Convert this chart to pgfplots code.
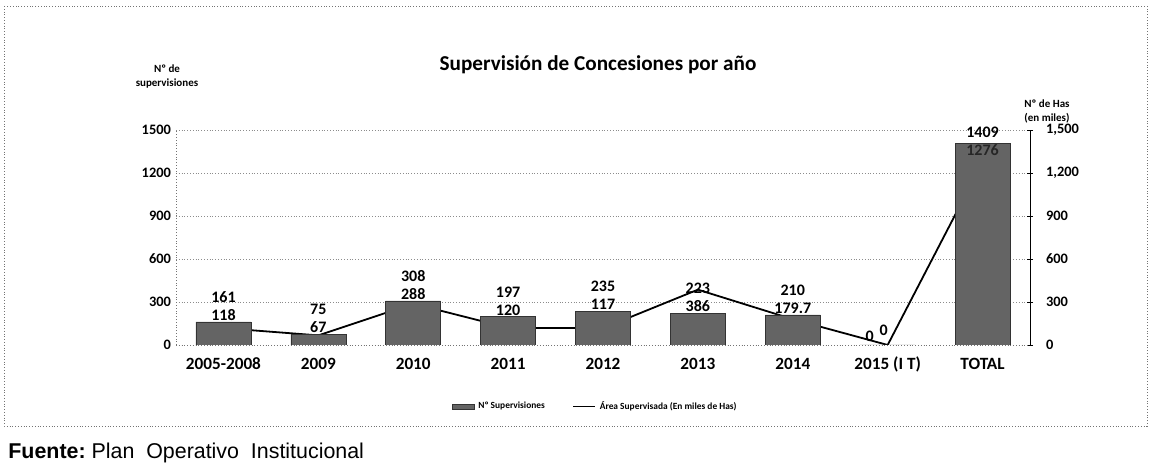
\documentclass[border=0pt]{standalone}
\usepackage{pgfplots}
\pgfplotsset{compat=1.18}
\usepackage{fontspec}
\setmainfont{Carlito}
\newfontfamily\arial{Liberation Sans}
\definecolor{barfill}{RGB}{100,100,100}
\begin{document}
\begin{tikzpicture}
\useasboundingbox (0,0) rectangle (576pt,232pt);
\draw[black!55, densely dotted, line width=0.4pt] (2pt,229pt) rectangle (573.5pt,19pt);
% ---------- line axis (right) ----------
\begin{axis}[
  at={(88pt,59.5pt)}, anchor=south west, scale only axis,
  width=427pt, height=107.5pt,
  xmin=-0.5, xmax=8.5, ymin=0, ymax=1500,
  axis x line=none,
  axis y line*=right,
  ytick={0,300,...,1500},
  ymajorgrids, grid style={densely dotted, black!45, line width=0.4pt},
  axis line style={black, line width=0.4pt},
  tick style={black, line width=0.4pt},
  tick align=center, major tick length=3pt,
  /pgf/number format/assume math mode=true,
  yticklabel style={font=\bfseries\fontsize{7.2}{8}\selectfont, xshift=3pt},
]
\addplot[black, line width=0.9pt] coordinates {(0,118) (1,67) (2,288) (3,120) (4,117) (5,386) (6,179.7) (7,0) (8,1276)};
\end{axis}
% ---------- bar axis (left) ----------
\begin{axis}[
  at={(88pt,59.5pt)}, anchor=south west, scale only axis,
  width=427pt, height=107.5pt,
  xmin=-0.5, xmax=8.5, ymin=0, ymax=1500,
  axis y line*=left, axis x line*=bottom,
  axis line style={densely dotted, black!55, line width=0.4pt, -},
  xtick={0,...,8},
  xticklabels={2005-2008,2009,2010,2011,2012,2013,2014,2015 (I T),TOTAL},
  ytick={0,300,...,1500},
  major tick length=0pt,
  /pgf/number format/assume math mode=true,
  /pgf/number format/1000 sep={},
  yticklabel style={font=\bfseries\fontsize{7.2}{8}\selectfont, xshift=1pt},
  xticklabel style={font=\bfseries\fontsize{8.6}{10}\selectfont, yshift=-2pt, text height=6.5pt, text depth=1.5pt},
  legend style={at={(0.492,-0.288)}, anchor=center, legend columns=2, draw=none, fill=none,
    font=\bfseries\fontsize{4.7}{5.5}\selectfont, /tikz/every even column/.append style={column sep=12pt}},
]
\addplot[ybar, bar width=27.5pt, fill=barfill, draw=black!80, line width=0.3pt,
  legend image code/.code={\draw[fill=barfill, draw=black!80, line width=0.3pt] (0pt,-1.4pt) rectangle (11pt,1.4pt);}]
  coordinates {(0,161) (1,75) (2,308) (3,197) (4,235) (5,223) (6,210) (7,0) (8,1409)};
\addlegendentry{Nº Supervisiones}
\addlegendimage{legend image code/.code={\draw[black, line width=0.5pt] (0pt,0pt) -- (11pt,0pt);}}
\addlegendentry{Área Supervisada (En miles de Has)}
% bar value labels
\addplot[draw=none, forget plot, nodes near coords, point meta=explicit symbolic,
  every node near coord/.append style={font=\bfseries\fontsize{8}{9}\selectfont, anchor=south, inner sep=0.5pt, yshift=9pt}]
  coordinates {(0,161)[161] (1,75)[75] (2,308)[308] (3,197)[197] (4,235)[235] (5,223)[223] (6,210)[210]};
\addplot[draw=none, forget plot, nodes near coords, point meta=explicit symbolic,
  every node near coord/.append style={font=\bfseries\fontsize{8}{9}\selectfont, anchor=south, inner sep=0.5pt, yshift=2pt}]
  coordinates {(8,1409)[1409]};
\addplot[draw=none, forget plot, nodes near coords, point meta=explicit symbolic,
  every node near coord/.append style={font=\bfseries\fontsize{8}{9}\selectfont, anchor=south, inner sep=0.5pt, xshift=-9pt, yshift=1pt}]
  coordinates {(7,0)[0]};
% line value labels
\addplot[draw=none, forget plot, nodes near coords, point meta=explicit symbolic,
  every node near coord/.append style={font=\bfseries\fontsize{8}{9}\selectfont, anchor=south, inner sep=0.5pt, yshift=0pt}]
  coordinates {(0,161)[118] (1,75)[67] (2,308)[288] (3,197)[120] (4,235)[117] (5,223)[386] (6,210)[179.7]};
\addplot[draw=none, forget plot, nodes near coords, point meta=explicit symbolic,
  every node near coord/.append style={font=\bfseries\fontsize{8}{9}\selectfont, anchor=north, inner sep=0.5pt, yshift=0pt, text=black!85}]
  coordinates {(8,1409)[1276]};
\addplot[draw=none, forget plot, nodes near coords, point meta=explicit symbolic,
  every node near coord/.append style={font=\bfseries\fontsize{8}{9}\selectfont, anchor=south, inner sep=0.5pt, xshift=-2pt, yshift=4pt}]
  coordinates {(7,0)[0]};
\end{axis}
% titles and axis names
\node[font=\bfseries\fontsize{10.6}{12}\selectfont] at (299pt,199.5pt) {Supervisión de Concesiones por año};
\node[font=\bfseries\fontsize{5.5}{7}\selectfont, align=center] at (83.5pt,193.5pt) {Nº de\\supervisiones};
\node[font=\bfseries\fontsize{5.5}{7}\selectfont, align=center] at (523.5pt,176.5pt) {Nº de Has\\(en miles)};
\node[anchor=base west, font=\arial\fontsize{10.7}{12}\selectfont, inner sep=0pt] at (4pt,2.6pt) {\textbf{Fuente:}\ Plan\ \ Operativo\ \ Institucional};
\end{tikzpicture}
\end{document}
